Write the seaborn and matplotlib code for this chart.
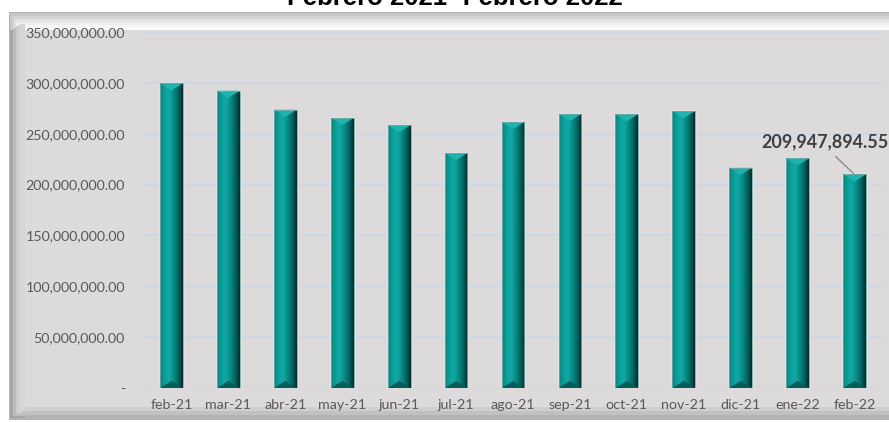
import numpy as np
import pandas as pd
import matplotlib
matplotlib.use("Agg")
import matplotlib.pyplot as plt
import seaborn as sns
from matplotlib.colors import LinearSegmentedColormap
from matplotlib.patches import Rectangle, Polygon
from matplotlib.ticker import FuncFormatter

# Monthly values
months = ["feb-21", "mar-21", "abr-21", "may-21", "jun-21", "jul-21", "ago-21",
          "sep-21", "oct-21", "nov-21", "dic-21", "ene-22", "feb-22"]
amounts = [299.5e6, 292.3e6, 273.6e6, 265.4e6, 258.4e6, 231.0e6, 261.5e6,
           269.4e6, 269.2e6, 272.3e6, 216.5e6, 225.7e6, 209947894.55]
title = "Febrero 2021- Febrero 2022"
last_label = "209,947,894.55"

df = pd.DataFrame({"mes": months, "monto": amounts})

W, H = 889, 422
sns.set_style("white")
plt.rcParams["font.family"] = ["Lato", "DejaVu Sans"]
fig = plt.figure(figsize=(W / 100, H / 100), dpi=100)
fig.patch.set_facecolor("white")

def px(x0, y0, x1, y1, **kw):
    # rectangle in pixel coords measured from top-left
    return Rectangle((x0 / W, 1 - y1 / H), (x1 - x0) / W, (y1 - y0) / H,
                     transform=fig.transFigure, **kw)

# bevelled chart frame
fig.add_artist(px(9, 12, 889, 420, facecolor="#b4b2b3", edgecolor="none", zorder=0))
for i, c in enumerate(["#c8c6c7", "#d4d2d3", "#e2e0e1", "#efeeee", "#f7f7f7", "#fbfbfb"]):
    fig.add_artist(px(10 + i * 2, 13 + i * 3, 889, 30, facecolor=c, edgecolor="none", zorder=0))
for i, c in enumerate(["#a8a6a7", "#bcbabb", "#cdcbcc", "#d7d5d6"]):
    fig.add_artist(px(10 + i * 3, 30 - i * 2, 25, 418 - i * 2, facecolor=c, edgecolor="none", zorder=0))
fig.add_artist(px(25, 30, 889, 407, facecolor="#dcdadb", edgecolor="none", zorder=0))
fig.add_artist(px(25, 407, 889, 411, facecolor="#d0cecf", edgecolor="none", zorder=0))
fig.add_artist(px(22, 411, 889, 415, facecolor="#c2c0c1", edgecolor="none", zorder=0))

# title sits mostly above the picture's top edge, as in the original
fig.text(455 / W, 1 - 5 / H, title, ha="center", va="baseline", fontsize=18.5,
         fontweight="bold", family=["Liberation Sans", "DejaVu Sans"], color="black")

ax = fig.add_axes([143 / W, 1 - 388 / H, (883 - 143) / W, (388 - 32) / H])
ax.set_facecolor("none")

sns.barplot(data=df, x="mes", y="monto", ax=ax, color="#008380", width=0.4,
            saturation=1, zorder=3)

ax.set_ylim(0, 350e6)
ax.set_xlim(-0.5, len(months) - 0.5)
ax.set_yticks(np.arange(0, 350e6 + 1, 50e6))
ax.yaxis.set_major_formatter(FuncFormatter(lambda v, p: "-" if v == 0 else f"{v:,.2f}"))
ax.grid(axis="y", color="#c9d9e6", linewidth=1.2, zorder=0)
ax.set_axisbelow(True)
for s in ax.spines.values():
    s.set_visible(False)
ax.set_xlabel("")
ax.set_ylabel("")
ax.tick_params(axis="both", length=0, labelsize=10.3, labelcolor="#595959")
ax.tick_params(axis="y", pad=13)
ax.tick_params(axis="x", pad=8)

# cylinder-like shading on every bar
cmap = LinearSegmentedColormap.from_list(
    "teal", ["#127f7c", "#0aa09b", "#12a8a3", "#068a86", "#046461", "#012c2c"])
grad = np.linspace(0, 1, 64).reshape(1, -1)
for bar in ax.patches:
    x0, y0 = bar.get_x(), bar.get_y()
    w, h = bar.get_width(), bar.get_height()
    im = ax.imshow(grad, cmap=cmap, aspect="auto", extent=(x0, x0 + w, y0, y0 + h),
                   zorder=3, interpolation="bicubic")
    im.set_clip_path(bar)
    tip = 7e6
    ax.add_patch(Polygon([(x0, y0 + h), (x0 + w, y0 + h), (x0 + w / 2, y0 + h - tip)],
                         closed=True, facecolor="#1fb3ad", edgecolor="none", zorder=4))
    ax.add_patch(Polygon([(x0, y0), (x0 + w, y0), (x0 + w / 2, y0 + tip)],
                         closed=True, facecolor="#055d5a", edgecolor="none", zorder=4))
    ax.add_patch(Rectangle((x0, y0), w, h, facecolor="none", edgecolor="#6fa9a7",
                           linewidth=0.6, zorder=5))

# label on the last month
ax.annotate(last_label, xy=(len(months) - 1, amounts[-1]),
            xytext=(len(months) - 2.63, amounts[-1] + 32e6),
            ha="left", va="center", fontsize=13, fontweight="bold", color="#404040",
            arrowprops=dict(arrowstyle="-", color="#8c8c8c", lw=1, shrinkA=3, shrinkB=1,
                            relpos=(0.53, 0)),
            annotation_clip=False, zorder=6)

fig.savefig("out.png", dpi=100)
